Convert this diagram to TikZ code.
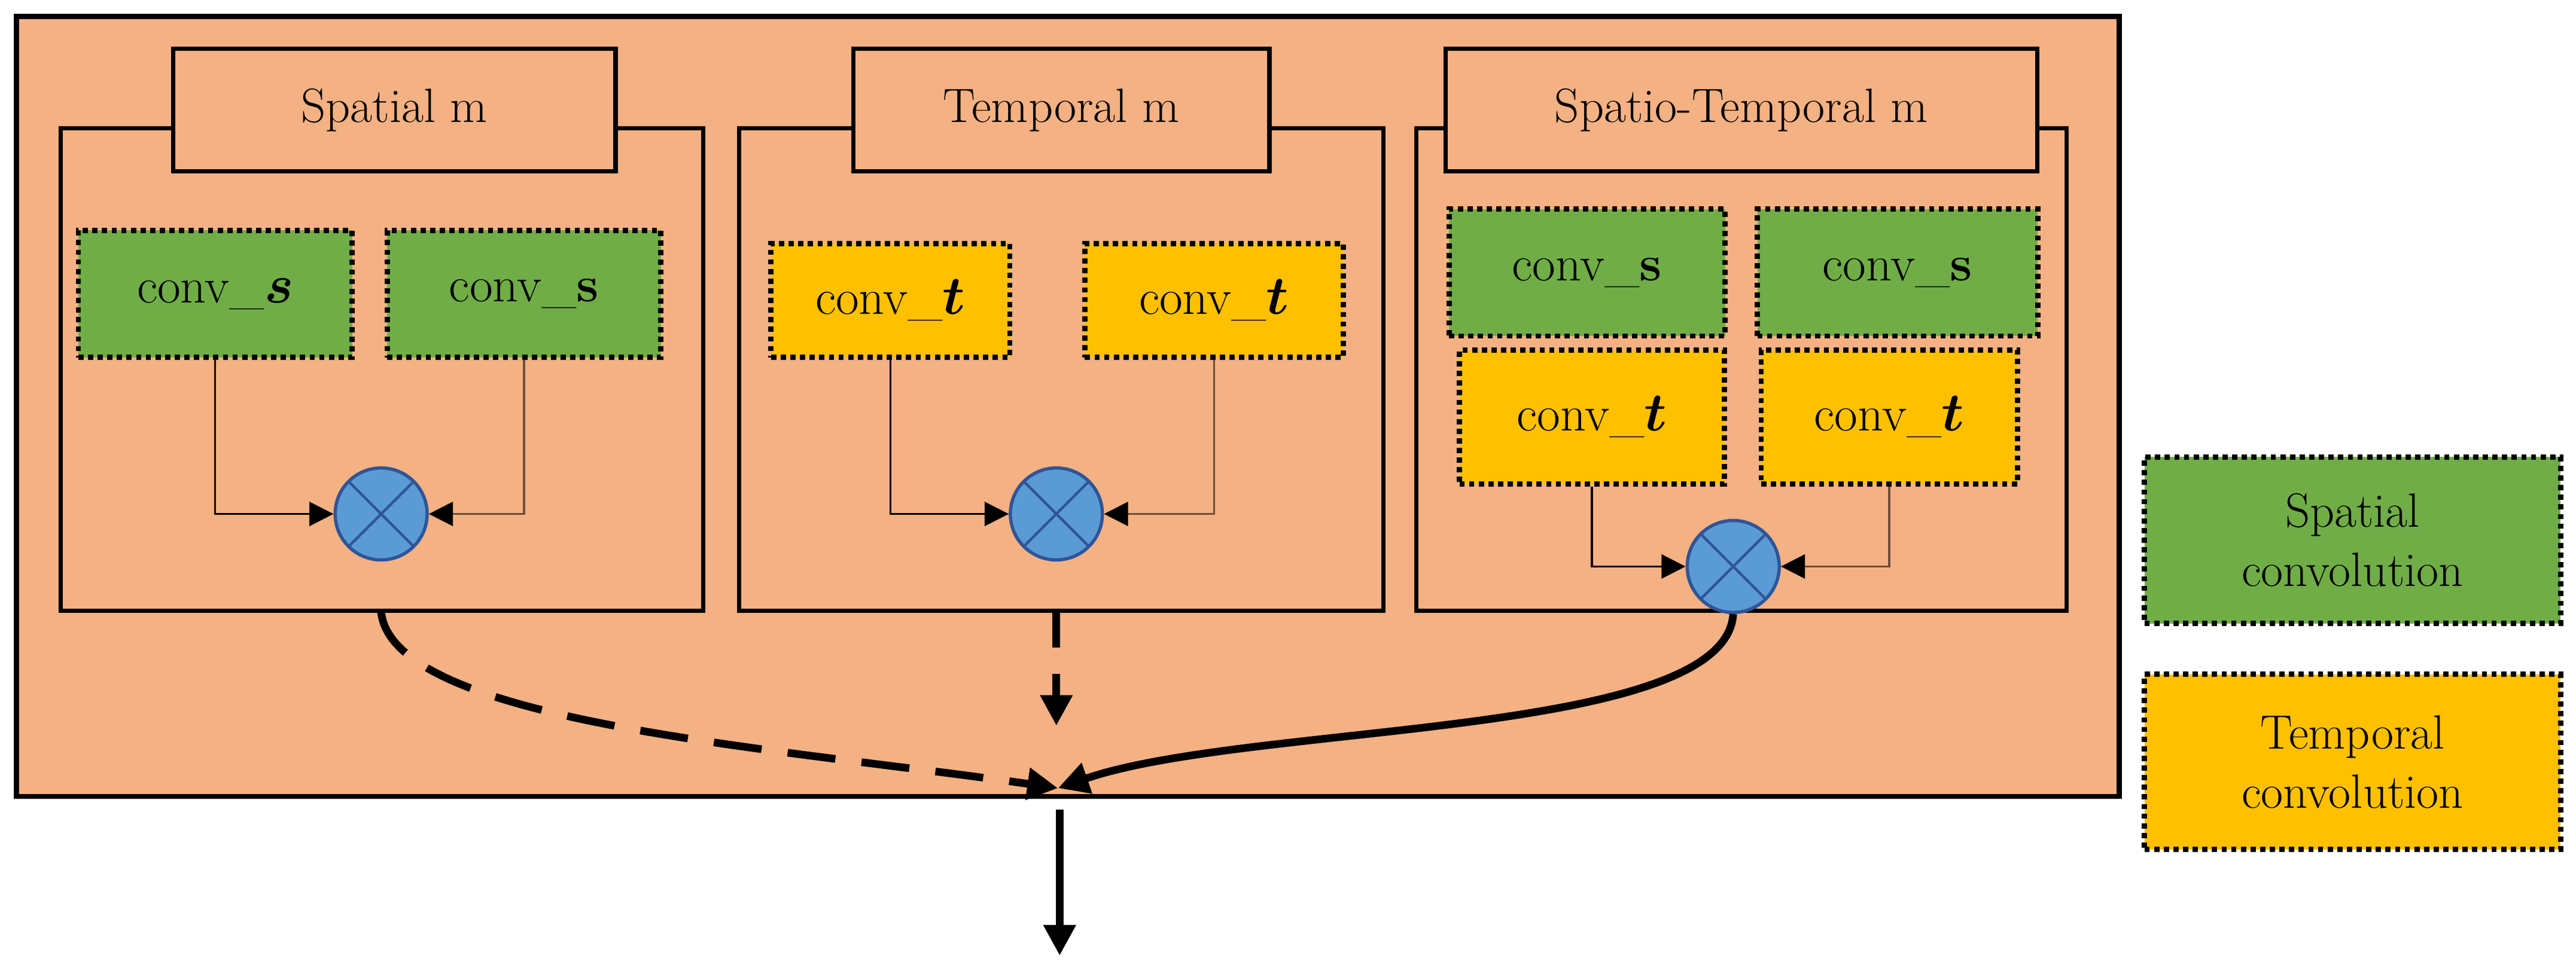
\documentclass[tikz,border=0pt]{standalone}
\usepackage{amsmath}
\usepackage{amssymb}
\usepackage{xcolor}
\usepackage{tikz}
\usetikzlibrary{arrows.meta,positioning}

\definecolor{bgorange}{RGB}{244,177,131}
\definecolor{convgreen}{RGB}{112,173,71}
\definecolor{convyellow}{RGB}{255,192,0}
\definecolor{mulblue}{RGB}{91,155,213}
\definecolor{mulline}{RGB}{47,85,151}
\definecolor{linkbrown}{RGB}{110,80,60}

\tikzset{
	module/.style={draw, line width=2pt, fill=bgorange},
	title/.style={draw, line width=2pt, fill=bgorange, inner sep=0pt, font=\fontsize{22}{26}\selectfont},
	convs/.style={draw, dotted, line width=2.4pt, fill=convgreen, inner sep=0pt, font=\fontsize{23}{27}\selectfont},
	convt/.style={convs, fill=convyellow},
	mul/.style={circle, draw=mulline, line width=1.5pt, fill=mulblue, minimum size=42pt, inner sep=0pt, path picture={
			\draw[mulline, line width=1.2pt] (path picture bounding box.south west) -- (path picture bounding box.north east)
			(path picture bounding box.north west) -- (path picture bounding box.south east);}},
	link/.style={line width=0.9pt, -{Triangle[length=11pt,width=11pt,color=black,fill=black]}},
	flow/.style={line width=3.5pt, -{Triangle[length=14pt,width=14pt]}}
}

\begin{document}
\begin{tikzpicture}[x=0.75pt,y=0.75pt,yscale=-1,xscale=1]
		\useasboundingbox (0,0) rectangle (1568,595);
		
		% outer block
		\draw [line width=2.4pt, fill=bgorange] (10,10) rectangle (1290,485);
		
		% modules
		\draw [module] (37,78) rectangle (428,372);
		\draw [module] (450,78) rectangle (842,372);
		\draw [module] (862,78) rectangle (1258,372);
		\node [title, minimum width=202pt, minimum height=56pt] (tsp) at (240,67) {Spatial m};
		\node [title, minimum width=190pt, minimum height=56pt] (ttm) at (646,67) {Temporal m};
		\node [title, minimum width=270pt, minimum height=56pt] (tst) at (1060,67) {Spatio-Temporal m};
		
		% spatial module
		\node [convs, minimum width=125pt, minimum height=58pt] (sa) at (131,179) {conv\_$\boldsymbol{s}$};
		\node [convs, minimum width=125pt, minimum height=58pt] (sb) at (319,179) {conv\_\textbf{s}};
		\node [mul] (msp) at (232,313) {};
		\draw [link] (sa.south) |- (msp.west);
		\draw [link, linkbrown] (sb.south) |- (msp.east);
		
		% temporal module
		\node [convt, minimum width=109pt, minimum height=52pt] (ta) at (542,183) {conv\_$\boldsymbol{t}$};
		\node [convt, minimum width=118pt, minimum height=52pt] (tb) at (739,183) {conv\_$\boldsymbol{t}$};
		\node [mul] (mtm) at (643,313) {};
		\draw [link] (ta.south) |- (mtm.west);
		\draw [link, linkbrown] (tb.south) |- (mtm.east);
		
		% spatio-temporal module
		\node [convs, minimum width=126pt, minimum height=58pt] (sta) at (966,166) {conv\_\textbf{s}};
		\node [convs, minimum width=128pt, minimum height=58pt] (stb) at (1155,166) {conv\_\textbf{s}};
		\node [convt, minimum width=121pt, minimum height=61pt] (stc) at (969,254) {conv\_$\boldsymbol{t}$};
		\node [convt, minimum width=117pt, minimum height=61pt] (std) at (1150,254) {conv\_$\boldsymbol{t}$};
		\node [mul] (mst) at (1055,345) {};
		\draw [link] (stc.south) |- (mst.west);
		\draw [link, linkbrown] (std.south) |- (mst.east);
		
		% merging
		\coordinate (join) at (644,480);
		\coordinate (tmend) at (643,442);
		\draw [flow, dashed, dash pattern=on 22pt off 12pt] (232,373) .. controls (240,440) and (470,455) .. (join);
		\draw [flow, dashed, dash pattern=on 16pt off 12pt] (643,373) -- (tmend);
		\draw [flow] (mst.south) .. controls (1050,450) and (760,440) .. (join);
		
		% output
		\coordinate (outa) at (645,493);
		\coordinate (outb) at (645,582);
		\draw [flow] (outa) -- (outb);
		
		% legend
		\node [convs, minimum width=190pt, minimum height=76pt, align=center, font=\fontsize{22}{27}\selectfont] (lgs) at (1432,329) {Spatial\\convolution};
		\node [convt, minimum width=190pt, minimum height=80pt, align=center, font=\fontsize{22}{27}\selectfont] (lgt) at (1432,464) {Temporal\\convolution};
\end{tikzpicture}
\end{document}
